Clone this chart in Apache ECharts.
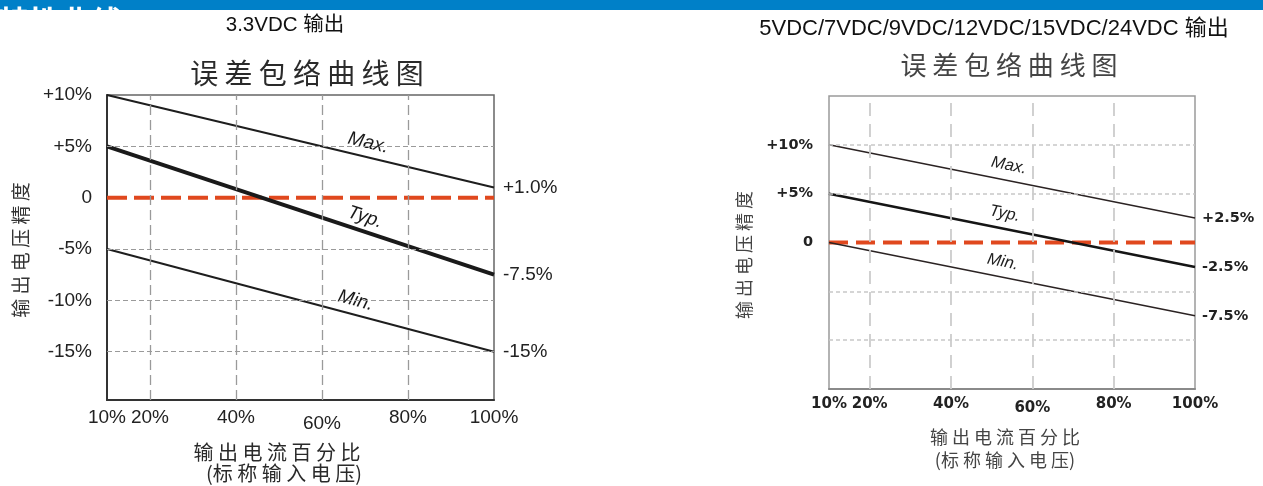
<!DOCTYPE html>
<html><head><meta charset="utf-8">
<script src="https://cdn.jsdelivr.net/npm/echarts@6/dist/echarts.min.js"></script>
<style>html,body{margin:0;padding:0;background:#fff}#c{width:1263px;height:486px}</style>
</head><body><div id="c"></div>
<script>
// ---------------- data ----------------
const xEnds = [10, 100];
const xTickLabels = [10, 20, 40, 60, 80, 100];
const xGrid = [20, 40, 60, 80];
const curveNames = ['Max.', 'Typ.', 'Min.'];

// 3.3VDC output chart
const max1 = [10, 1.0];
const typ1 = [5, -7.5];
const min1 = [-5, -15];
const ref1 = [0, 0];
const endText1 = ['+1.0%', '-7.5%', '-15%'];
const yTicks1 = [10, 5, 0, -5, -10, -15];
const yGrid1 = [5, -5, -10, -15];
const labelAt1 = [70, 69, 67];

// 5/7/9/12/15/24VDC output chart
const max2 = [10, 2.5];
const typ2 = [5, -2.5];
const min2 = [0, -7.5];
const ref2 = [0, 0];
const endText2 = ['+2.5%', '-2.5%', '-7.5%'];
const yTicks2 = [10, 5, 0];
const yGrid2 = [10, 5, -5, -10];
const labelAt2 = [53.5, 52.5, 52];

// --------------------------------------
const pts = ys => xEnds.map((x, i) => [x, ys[i]]);
const pctFmt = v => v > 0 ? '+' + v + '%' : (v === 0 ? '0' : v + '%');
const CJK = '"Noto Sans CJK SC"';
const F1 = '"Liberation Sans", Arial, sans-serif';
const F2 = '"DejaVu Sans", sans-serif';

function curve(idx, ys, text, width, color, font) {
  return {
    type: 'line', xAxisIndex: idx, yAxisIndex: idx, data: pts(ys), z: 3,
    showSymbol: false, symbol: 'none', silent: true,
    lineStyle: { color: color, width: width },
    endLabel: { show: true, formatter: () => text, distance: font.dist,
      fontSize: font.size, fontFamily: font.family, fontWeight: font.weight, color: '#222' }
  };
}
function refLine(idx, ys, dash) {
  return { type: 'line', xAxisIndex: idx, yAxisIndex: idx, data: pts(ys), z: 2,
    showSymbol: false, symbol: 'none', silent: true,
    lineStyle: { color: '#E0481E', width: 4, type: dash } };
}
function gridHelper(idx, yg, xg, hStyle, vStyle) {
  return { type: 'line', xAxisIndex: idx, yAxisIndex: idx, data: pts(ref1), z: 1,
    showSymbol: false, symbol: 'none', silent: true, lineStyle: { opacity: 0 },
    markLine: { silent: true, symbol: 'none', animation: false, label: { show: false },
      data: [...yg.map(v => ({ yAxis: v, lineStyle: hStyle })),
             ...xg.map(v => ({ xAxis: v, lineStyle: vStyle }))] } };
}
function xAxis(idx, font, lowPad, color, weight, margin, lineColor) {
  return {
    gridIndex: idx, type: 'value', min: 10, max: 100, interval: 10,
    axisLine: { show: true, onZero: false, lineStyle: { color: lineColor, width: 2 } },
    axisTick: { show: false }, splitLine: { show: false },
    axisLabel: { showMinLabel: true, showMaxLabel: true, margin: margin,
      fontSize: font.size, fontFamily: font.family, fontWeight: weight, color: color,
      formatter: v => xTickLabels.includes(v) ? (v === 60 ? '{low|60%}' : v + '%') : '',
      rich: { low: { padding: [lowPad, 0, 0, 0], fontSize: font.size, fontFamily: font.family, fontWeight: weight, color: color } } }
  };
}

const base = [
  { type: 'rect', shape: { x: 0, y: 0, width: 1263, height: 10 }, style: { fill: '#0080C8' }, silent: true },
  { type: 'text', x: -2, y: 6, silent: true, style: { text: '特性曲线', font: 'bold 31px ' + CJK, fill: '#fff', textAlign: 'left', align: 'left', textVerticalAlign: 'alphabetic', verticalAlign: 'alphabetic' } },
  // chart 1 texts
  { type: 'text', x: 285, y: 25, silent: true, style: { text: '3.3VDC 输出', font: '20.5px ' + F1 + ',' + CJK, fill: '#111', textAlign: 'center', align: 'center', textVerticalAlign: 'middle', verticalAlign: 'middle' } },
  { type: 'text', x: 307, y: 73, silent: true, style: { text: '误 差 包 络 曲 线 图', font: '28px ' + CJK, fill: '#2a2a2a', textAlign: 'center', align: 'center', textVerticalAlign: 'middle', verticalAlign: 'middle' } },
  { type: 'text', x: 21, y: 250, rotation: Math.PI / 2, silent: true, style: { text: '输 出 电 压 精 度', font: '19px ' + CJK, fill: '#333', textAlign: 'center', align: 'center', textVerticalAlign: 'middle', verticalAlign: 'middle' } },
  { type: 'text', x: 277, y: 452, silent: true, style: { text: '输 出 电 流 百 分 比', font: '20px ' + CJK, fill: '#2a2a2a', textAlign: 'center', align: 'center', textVerticalAlign: 'middle', verticalAlign: 'middle' } },
  { type: 'text', x: 284, y: 473, silent: true, style: { text: '(标 称 输 入 电 压)', font: '20px ' + CJK, fill: '#2a2a2a', textAlign: 'center', align: 'center', textVerticalAlign: 'middle', verticalAlign: 'middle' } },
  // chart 2 texts
  { type: 'text', x: 994, y: 29, silent: true, style: { text: '5VDC/7VDC/9VDC/12VDC/15VDC/24VDC 输出', font: '22px ' + F1 + ',' + CJK, fill: '#111', textAlign: 'center', align: 'center', textVerticalAlign: 'middle', verticalAlign: 'middle' } },
  { type: 'text', x: 1009, y: 65, silent: true, style: { text: '误 差 包 络 曲 线 图', font: '26px ' + CJK, fill: '#444', textAlign: 'center', align: 'center', textVerticalAlign: 'middle', verticalAlign: 'middle' } },
  { type: 'text', x: 744, y: 255, rotation: Math.PI / 2, silent: true, style: { text: '输 出 电 压 精 度', font: '18px ' + CJK, fill: '#444', textAlign: 'center', align: 'center', textVerticalAlign: 'middle', verticalAlign: 'middle' } },
  { type: 'text', x: 1005, y: 437, silent: true, style: { text: '输 出 电 流 百 分 比', font: '18px ' + CJK, fill: '#444', textAlign: 'center', align: 'center', textVerticalAlign: 'middle', verticalAlign: 'middle' } },
  { type: 'text', x: 1005, y: 460, silent: true, style: { text: '(标 称 输 入 电 压)', font: '18px ' + CJK, fill: '#444', textAlign: 'center', align: 'center', textVerticalAlign: 'middle', verticalAlign: 'middle' } }
];

const font1 = { size: 19, family: F1, weight: 'normal', dist: 9 };
const font2 = { size: 14.5, family: F2, weight: 'bold', dist: 7 };

const option = {
  animation: false,
  graphic: { elements: base },
  grid: [
    { left: 107, top: 95, width: 387, height: 305, show: true, borderColor: '#666', borderWidth: 1.5 },
    { left: 829, top: 96, width: 366, height: 293, show: true, borderColor: '#9a9a9a', borderWidth: 1.5 }
  ],
  xAxis: [
    xAxis(0, font1, 6, '#222', 'normal', 8, '#333'),
    xAxis(1, { size: 15, family: F2 }, 4, '#222', 'bold', 8, '#8a8a8a')
  ],
  yAxis: [
    { gridIndex: 0, type: 'value', min: -19.7, max: 10, splitNumber: 6,
      axisLine: { show: true, onZero: false, lineStyle: { color: '#333', width: 2 } },
      axisTick: { show: false, customValues: yTicks1 }, splitLine: { show: false },
      axisLabel: { customValues: yTicks1, margin: 15, fontSize: 19, fontFamily: F1, color: '#222',
        formatter: v => yTicks1.includes(v) ? pctFmt(v) : '' } },
    { gridIndex: 1, type: 'value', min: -15, max: 15, interval: 5,
      axisLine: { show: false }, axisTick: { show: false }, splitLine: { show: false },
      axisLabel: { margin: 16, fontSize: 14.5, fontFamily: F2, fontWeight: 'bold', color: '#222',
        formatter: v => yTicks2.includes(v) ? pctFmt(v) : '' } }
  ],
  series: [
    gridHelper(0, yGrid1, xGrid, { color: '#9a9a9a', width: 1, type: [5, 3] }, { color: '#9a9a9a', width: 1.3, type: [10, 5] }),
    refLine(0, ref1, [20, 7]),
    curve(0, max1, endText1[0], 2, '#1e1e1e', font1),
    curve(0, typ1, endText1[1], 4, '#1a1a1a', font1),
    curve(0, min1, endText1[2], 2, '#1e1e1e', font1),
    gridHelper(1, yGrid2, xGrid, { color: '#c8c8c8', width: 1.5, type: [4, 3] }, { color: '#cccccc', width: 1.8, type: [13, 8] }),
    refLine(1, ref2, [19, 8]),
    curve(1, max2, endText2[0], 1.5, '#2b2323', font2),
    curve(1, typ2, endText2[1], 2.5, '#151515', font2),
    curve(1, min2, endText2[2], 1.5, '#2b2323', font2)
  ]
};

const chart = echarts.init(document.getElementById('c'), null, { renderer: 'canvas' });
chart.setOption(option);

function curveLabels(idx, seriesYs, labelAt, offset, font, color) {
  return seriesYs.map((ys, i) => {
    const f = { xAxisIndex: idx, yAxisIndex: idx };
    const p0 = chart.convertToPixel(f, [xEnds[0], ys[0]]);
    const p1 = chart.convertToPixel(f, [xEnds[1], ys[1]]);
    const t = (labelAt[i] - xEnds[0]) / (xEnds[1] - xEnds[0]);
    const dx = p1[0] - p0[0], dy = p1[1] - p0[1], len = Math.hypot(dx, dy);
    const px = p0[0] + t * dx, py = p0[1] + t * dy;
    return { type: 'text', silent: true, x: px + dy / len * offset, y: py - dx / len * offset,
      rotation: -Math.atan2(dy, dx),
      style: { text: curveNames[i], font: font, fill: color, textAlign: 'center', align: 'center', textVerticalAlign: 'middle', verticalAlign: 'middle' } };
  });
}
const labels = [
  ...curveLabels(0, [max1, typ1, min1], labelAt1, 14, 'italic 19px ' + F1, '#1a1a1a'),
  ...curveLabels(1, [max2, typ2, min2], labelAt2, 15, 'italic 16.5px ' + F1, '#222')
];
chart.setOption({ graphic: { elements: base.concat(labels) } });
</script>
</body></html>
